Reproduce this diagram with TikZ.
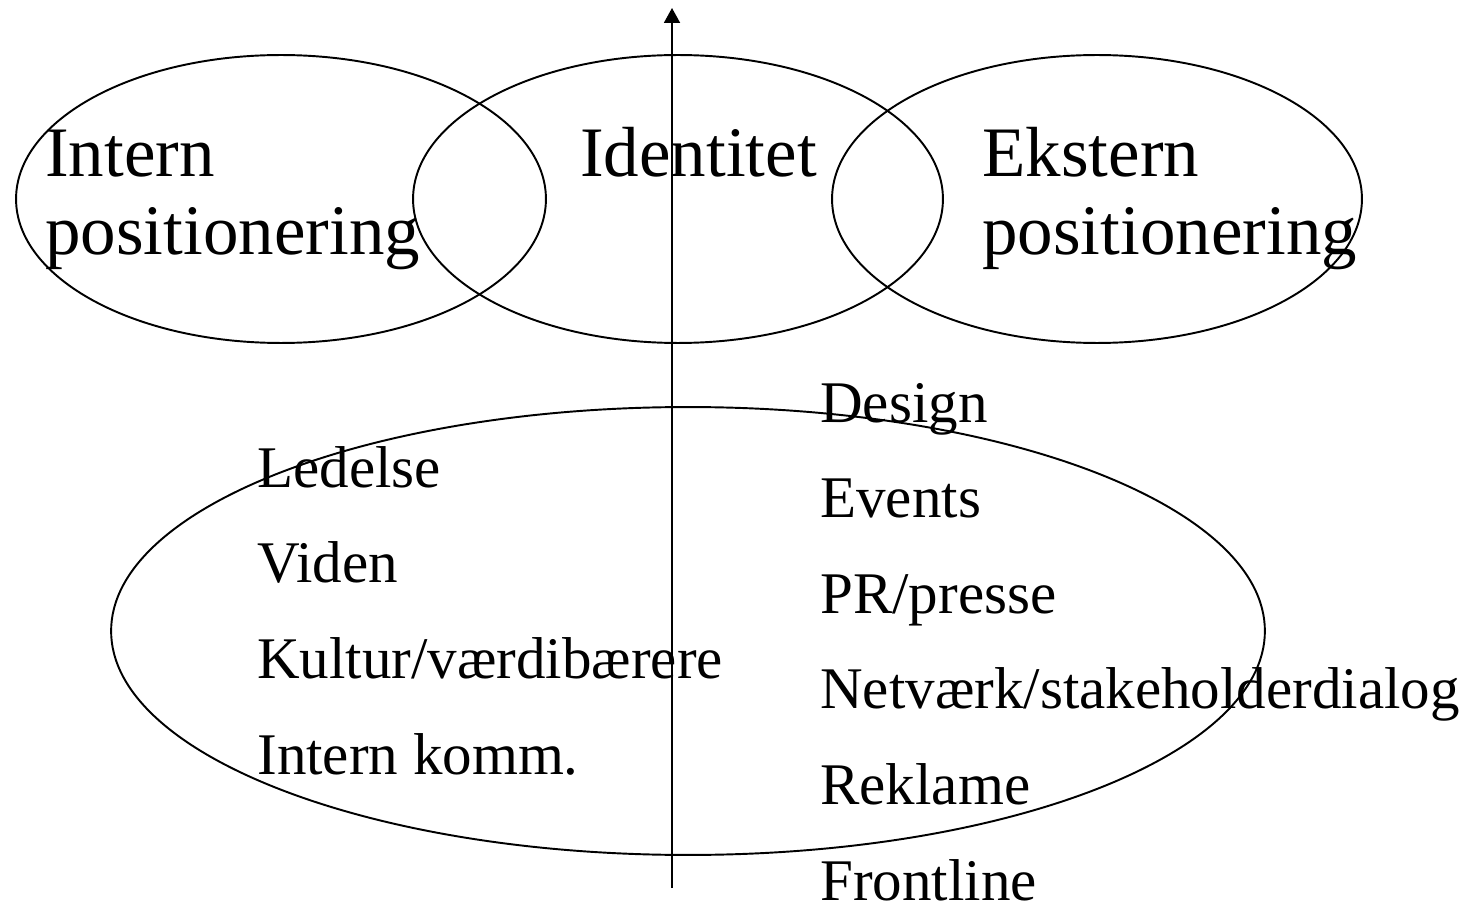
\documentclass[tikz,border=0pt]{standalone}
\usepackage{fontspec}
\setmainfont{Liberation Serif}
\usepackage{tikz}
\usetikzlibrary{arrows.meta,positioning,shapes.geometric}
\tikzset{
  ring/.style={draw, line width=1.1pt, ellipse, inner sep=0pt,
               minimum width=10.6cm, minimum height=5.76cm},
  bigring/.style={ring, minimum width=23.08cm, minimum height=8.96cm},
  head/.style={anchor=base west, inner sep=0pt, align=left,
               font=\fontsize{40.4}{44.4}\selectfont},
  items/.style={anchor=base west, inner sep=0pt, align=left,
                font=\fontsize{33.6}{54.4}\selectfont},
}

\begin{document}
\begin{tikzpicture}[x=0.02cm, y=-0.02cm, >=Stealth]
    \useasboundingbox (0,0) rectangle (1475,902);
    % top row and the big one below
    \node[ring] (ip) at (281,199)  {};
    \node[ring] (id) at (678,199)  {};
    \node[ring] (ep) at (1097,199) {};
    \node[bigring] (mid) at (688,631) {};
    \coordinate (bot) at (672,888);
    \coordinate (top) at (672,8);
    \draw[->, line width=1.1pt, >={Triangle[length=0.3cm, width=0.32cm]}] (bot) -- (top);
    % base anchor sits on the last line
    \node[head] (ipt) at (45,255)  {Intern\\positionering};
    \node[head] (idt) at (580,177) {Identitet};
    \node[head] (ept) at (982,255) {Ekstern\\positionering};
    \node[items] (lft) at (257,774) {Ledelse\\Viden\\Kultur/værdibærere\\Intern komm.};
    \node[items] (rgt) at (820,900) {Design\\Events\\PR/presse\\Netværk/stakeholderdialog\\Reklame\\Frontline};
  \end{tikzpicture}
\end{document}
